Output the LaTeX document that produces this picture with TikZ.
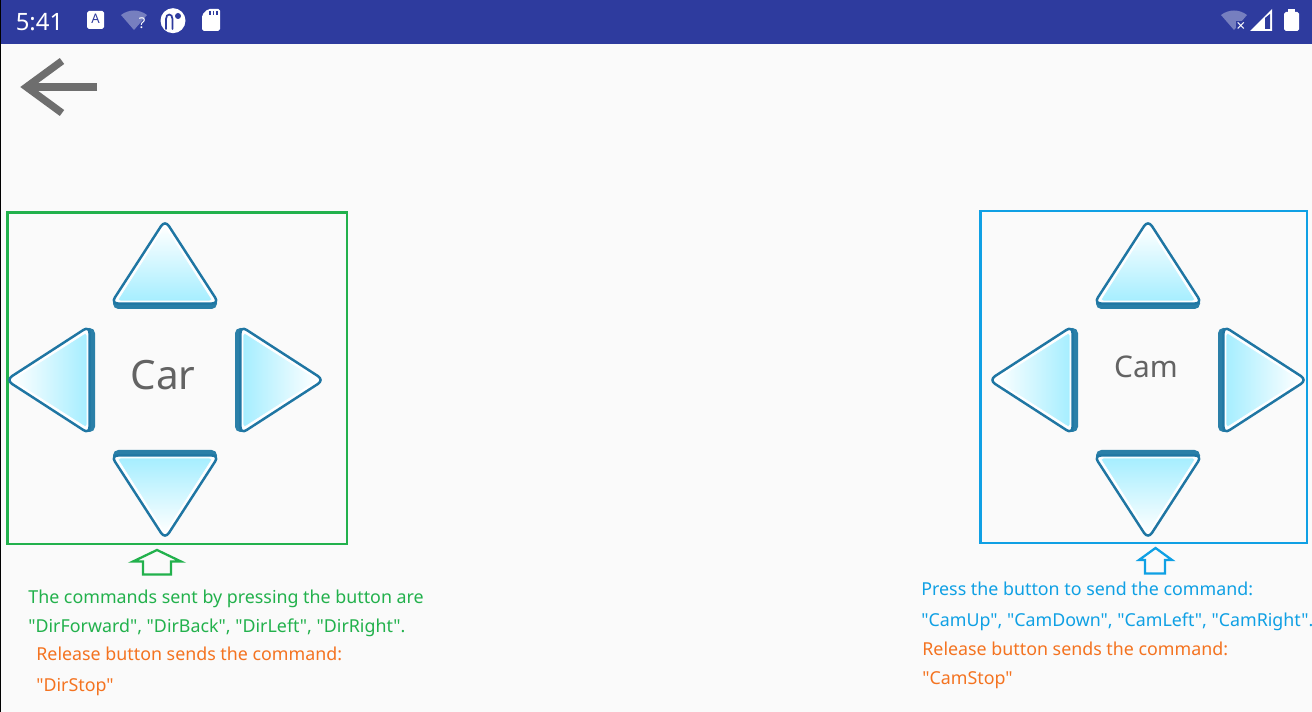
\documentclass[tikz,border=0pt]{standalone}
\usepackage{fontspec}
\newfontfamily\notofont{Noto Sans}
\usepackage{xcolor}
\usetikzlibrary{arrows.meta,shapes}
\definecolor{barblue}{HTML}{2E3B9E}
\definecolor{pagegray}{HTML}{FAFAFA}
\definecolor{backgray}{HTML}{6E6E6E}
\definecolor{carwire}{HTML}{22B14C}
\definecolor{camwire}{HTML}{0FA0E4}
\definecolor{stoporange}{HTML}{F47320}
\definecolor{btnline}{HTML}{1F76A3}
\definecolor{btnedge}{HTML}{2A7FA8}
\definecolor{btnfill}{HTML}{A6EEFF}
\tikzset{
wirebox/.style={line width=1.2pt,fill=none},
cartext/.style={anchor=base west,inner sep=0,text=carwire,font=\notofont\fontsize{10.15}{12}\selectfont},
camtext/.style={anchor=base west,inner sep=0,text=camwire,font=\notofont\fontsize{10.15}{12}\selectfont},
stoptext/.style={anchor=base west,inner sep=0,text=stoporange,font=\notofont\fontsize{10.15}{12}\selectfont},
bartext/.style={inner sep=0,text=white},
btn/.pic={
\fill[btnedge,rounded corners=3pt](-52,5)--(-52,-6)--(52,-6)--(52,5)--cycle;
\draw[btnline,line width=1.4pt,fill=white,rounded corners=4pt](0,-84)--(54,-0.5)--(-54,-0.5)--cycle;
\shade[top color=white,bottom color=btnfill,shading angle=#1,draw=white,line width=0.4pt,rounded corners=2pt](0,-78)--(48,-3)--(-48,-3)--cycle;
}
}
\begin{document}
\begin{tikzpicture}[x=0.02cm,y=-0.02cm,>=stealth]
\useasboundingbox(0,0)rectangle(1312,712);
\fill[pagegray](0,0)rectangle(1312,712);
\fill[barblue](0,0)rectangle(1312,44);
\draw[black,line width=0.6pt](0.5,0)--(0.5,712);
\node[bartext,font=\notofont\fontsize{13.6}{16}\selectfont](clock)at(39.5,22){5:41};
\fill[white,rounded corners=1pt](87,11)rectangle(104,29);
\node[inner sep=0,text=barblue,font=\notofont\bfseries\fontsize{7.5}{8}\selectfont](aicon)at(95.5,19){A};
\fill[white,opacity=0.35](134,30)--(121,15)..controls(129,9)and(139,9)..(147,15)--cycle;
\node[bartext,font=\notofont\bfseries\fontsize{8.5}{10}\selectfont](qmark)at(142,23.5){?};
\fill[white](173,20.7)circle(12.5);
\draw[barblue,line width=1pt,line cap=round](166,29)--(166,19)..controls(166,13)and(172.5,13)..(172.5,19)--(172.5,29);
\fill[barblue](178,16)circle(3);
\fill[white,rounded corners=1pt](202,15)--(208,9)--(220,9)--(220,31)--(202,31)--cycle;
\draw[barblue,line width=0.6pt](210,11)--(210,15)(213.5,11)--(213.5,15)(217,11)--(217,15);
\fill[white,opacity=0.35](1234,30)--(1221,15)..controls(1229,9)and(1239,9)..(1247,15)--cycle;
\fill[barblue](1236,21)rectangle(1247,33);
\node[bartext,font=\notofont\bfseries\fontsize{9}{10}\selectfont](xmark)at(1241,27){×};
\fill[white](1250,31)--(1272,9)--(1272,31)--cycle;
\fill[barblue](1265,18)--(1270,14)--(1270,29)--(1265,29)--cycle;
\fill[white,rounded corners=1pt](1284,12)rectangle(1299,31);
\fill[white](1288,9)rectangle(1295,13);
\draw[backgray,line width=4pt](97,87)--(30,87);
\draw[backgray,line width=4.2pt,miter limit=10](62,61)--(26.5,87)--(62,113);
\draw[wirebox,carwire](7.5,212.5)rectangle(347,544);
\draw[wirebox,camwire](980.5,211)rectangle(1307,543);
\pic at(165,304){btn=0};
\pic[rotate=90]at(90,380){btn=90};
\pic[rotate=-90]at(240,380){btn=-90};
\pic[rotate=180]at(165,455){btn=180};
\pic at(1148,304){btn=0};
\pic[rotate=90]at(1073,380){btn=90};
\pic[rotate=-90]at(1223,380){btn=-90};
\pic[rotate=180]at(1148,455){btn=180};
\node[inner sep=0,text=backgray!90!black,font=\notofont\fontsize{23}{26}\selectfont](carlabel)at(163,375){Car};
\node[inner sep=0,text=backgray!90!black,font=\notofont\fontsize{17}{20}\selectfont](camlabel)at(1146,367){Cam};
\draw[carwire,line width=1.3pt,line join=miter](157,550)--(181,561.5)--(171,561.5)--(171,574.5)--(143,574.5)--(143,561.5)--(133,561.5)--cycle;
\draw[camwire,line width=1.3pt,line join=miter](1155.5,548)--(1172,560)--(1165,560)--(1165,573.5)--(1145,573.5)--(1145,560)--(1139,560)--cycle;
\node[cartext](carone)at(28,603){The commands sent by pressing the button are};
\node[cartext](cartwo)at(28,632){"DirForward", "DirBack", "DirLeft", "DirRight".};
\node[stoptext](carthree)at(36,661){Release button sends the command:};
\node[stoptext](carfour)at(36,691){"DirStop"};
\node[camtext](camone)at(921,596){Press the button to send the command:};
\node[camtext](camtwo)at(921,626){"CamUp", "CamDown", "CamLeft", "CamRight".};
\node[stoptext](camthree)at(922,655){Release button sends the command:};
\node[stoptext](camfour)at(922,684.5){"CamStop"};
\end{tikzpicture}
\end{document}
